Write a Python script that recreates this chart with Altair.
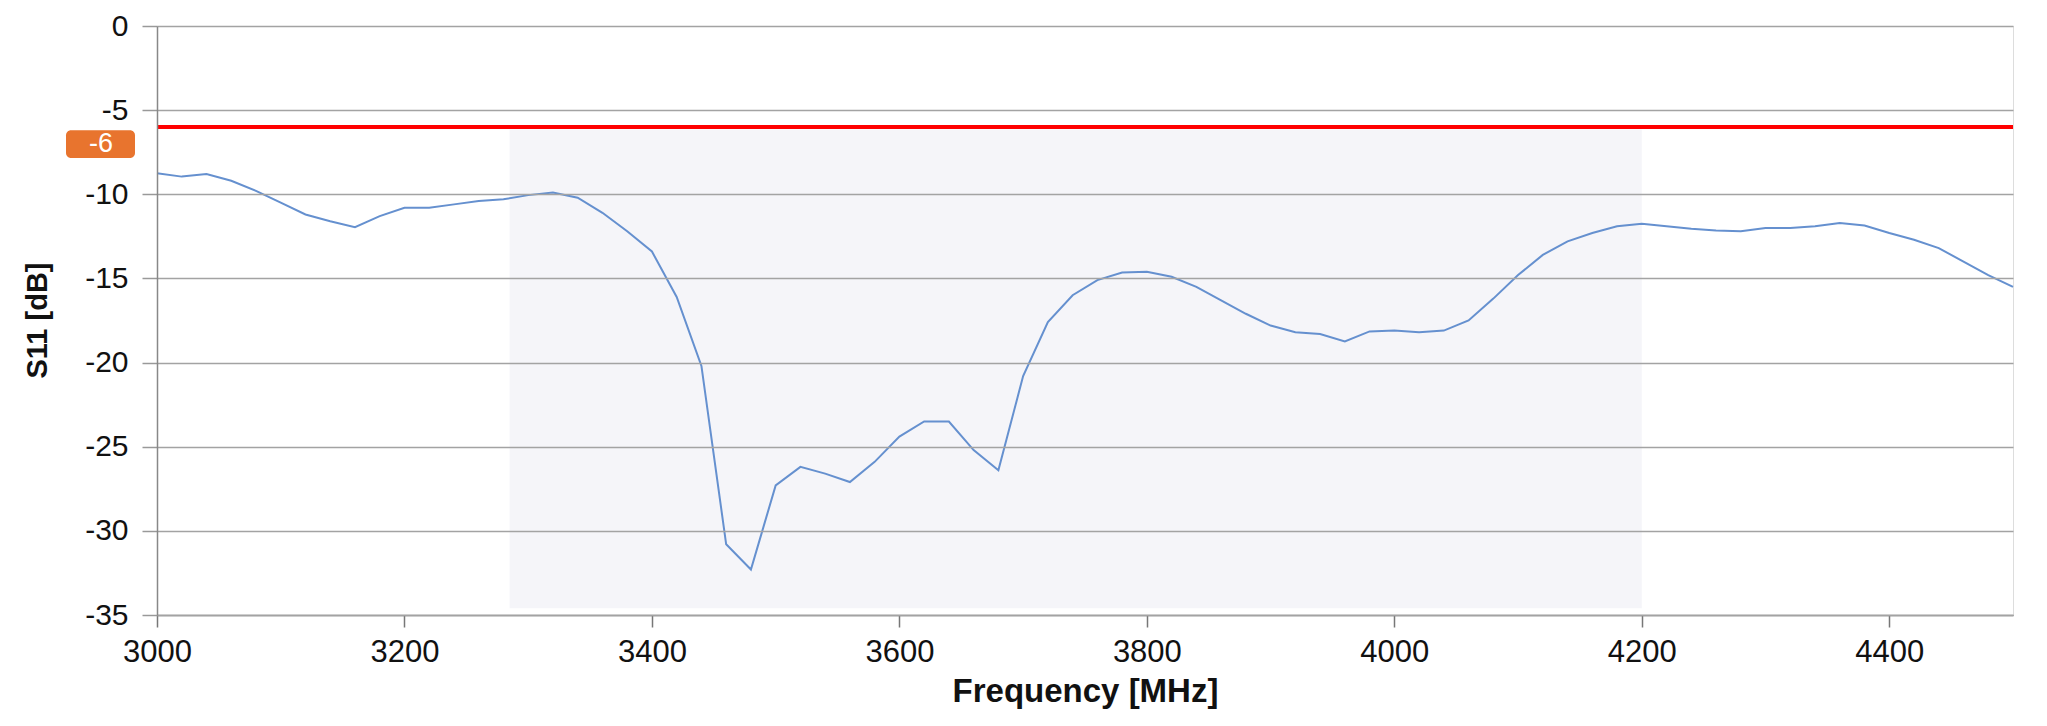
import altair as alt
import pandas as pd

freq_mhz = [3000, 3020, 3040, 3060, 3080, 3100, 3120, 3140, 3160, 3180,
            3200, 3220, 3240, 3260, 3280, 3300, 3320, 3340, 3360, 3380,
            3400, 3420, 3440, 3460, 3480, 3500, 3520, 3540, 3560, 3580,
            3600, 3620, 3640, 3660, 3680, 3700, 3720, 3740, 3760, 3780,
            3800, 3820, 3840, 3860, 3880, 3900, 3920, 3940, 3960, 3980,
            4000, 4020, 4040, 4060, 4080, 4100, 4120, 4140, 4160, 4180,
            4200, 4220, 4240, 4260, 4280, 4300, 4320, 4340, 4360, 4380,
            4400, 4420, 4440, 4460, 4480, 4500]
s11_db = [-8.75, -8.95, -8.8, -9.2, -9.8, -10.5, -11.2, -11.6, -11.95, -11.3,
          -10.8, -10.8, -10.6, -10.4, -10.3, -10.05, -9.9, -10.2, -11.1, -12.2,
          -13.4, -16.1, -20.2, -30.8, -32.3, -27.3, -26.2, -26.6, -27.1, -25.9,
          -24.4, -23.5, -23.5, -25.2, -26.4, -20.8, -17.6, -16.0, -15.1, -14.65,
          -14.6, -14.9, -15.5, -16.3, -17.1, -17.8, -18.2, -18.3, -18.75, -18.15,
          -18.1, -18.2, -18.1, -17.5, -16.2, -14.8, -13.6, -12.8, -12.3, -11.9,
          -11.75, -11.9, -12.05, -12.15, -12.2, -12.0, -12.0, -11.9, -11.7, -11.85,
          -12.3, -12.7, -13.2, -14.0, -14.8, -15.5]

x_ticks = [3000, 3200, 3400, 3600, 3800, 4000, 4200, 4400]
y_ticks = [-35, -30, -25, -20, -15, -10, -5, 0]
threshold_db = -6
band_start, band_end = 3285, 4200
band_top, band_bottom = -6.15, -34.6
label_top, label_bottom, label_mid = -6.2, -7.85, -7.0

FONT = "Liberation Sans"

df = pd.DataFrame({"f": freq_mhz, "s": s11_db})

xscale = alt.Scale(domain=[3000, 4500], nice=False, zero=False)
yscale = alt.Scale(domain=[-35, 0], nice=False)

xenc = alt.X("f:Q", scale=xscale,
             axis=alt.Axis(values=x_ticks, title="Frequency [MHz]", grid=False,
                           labelExpr="'' + datum.value",
                           tickSize=12, tickColor="#777", domainColor="#777",
                           domainWidth=1.5, tickWidth=1.5,
                           labelFontSize=31, labelFont=FONT, labelColor="#111",
                           labelPadding=10, labelFlush=False,
                           titleFont=FONT, titleFontSize=33, titleFontWeight="bold",
                           titleColor="#111", titleX=928, titleY=86,
                           titleBaseline="alphabetic", titleAnchor="middle"))
yenc = alt.Y("s:Q", scale=yscale,
             axis=alt.Axis(values=y_ticks, title="S11 [dB]", grid=True,
                           labelExpr="'' + datum.value",
                           gridColor="#a3a3a3", gridWidth=1.5,
                           tickSize=15, tickColor="#999", tickWidth=1.5,
                           domainColor="#888", domainWidth=1.5,
                           labelFontSize=30, labelFont=FONT, labelColor="#111",
                           labelPadding=14,
                           titleFont=FONT, titleFontSize=29, titleFontWeight="bold",
                           titleColor="#111", titleAngle=-90, titleX=-111, titleY=294,
                           titleBaseline="alphabetic", titleAlign="center",
                           zindex=1))

band = alt.Chart(df).mark_rect(color="#f5f5f9").encode(
    x=alt.datum(band_start, scale=xscale),
    x2=alt.datum(band_end),
    y=alt.datum(band_top, scale=yscale),
    y2=alt.datum(band_bottom),
).transform_filter("datum.f == 3000")

line = alt.Chart(df).mark_line(color="#6590cf", strokeWidth=2).encode(x=xenc, y=yenc)

rule = alt.Chart(df).mark_rule(color="#ff0000", strokeWidth=4).encode(
    y=alt.datum(threshold_db, scale=yscale)
).transform_filter("datum.f == 3000")

badge = alt.Chart(df).mark_rect(color="#e8742e", cornerRadius=5).encode(
    x=alt.value(-91), x2=alt.value(-22),
    y=alt.datum(label_top, scale=yscale), y2=alt.datum(label_bottom),
).transform_filter("datum.f == 3000")

badge_text = alt.Chart(df).mark_text(color="white", font=FONT, fontSize=27,
                                     align="center", baseline="middle").encode(
    x=alt.value(-56),
    y=alt.datum(label_mid, scale=yscale),
    text=alt.value(str(threshold_db)),
).transform_filter("datum.f == 3000")

chart = alt.layer(band, line, rule, badge, badge_text).properties(
    width=1856, height=589,
    autosize=alt.AutoSizeParams(type="none"),
    padding={"left": 149, "top": 18, "right": 16, "bottom": 99},
).configure_view(stroke=None).configure(background="white")

chart.save("out.html", embed_options={"renderer": "svg", "actions": False})
